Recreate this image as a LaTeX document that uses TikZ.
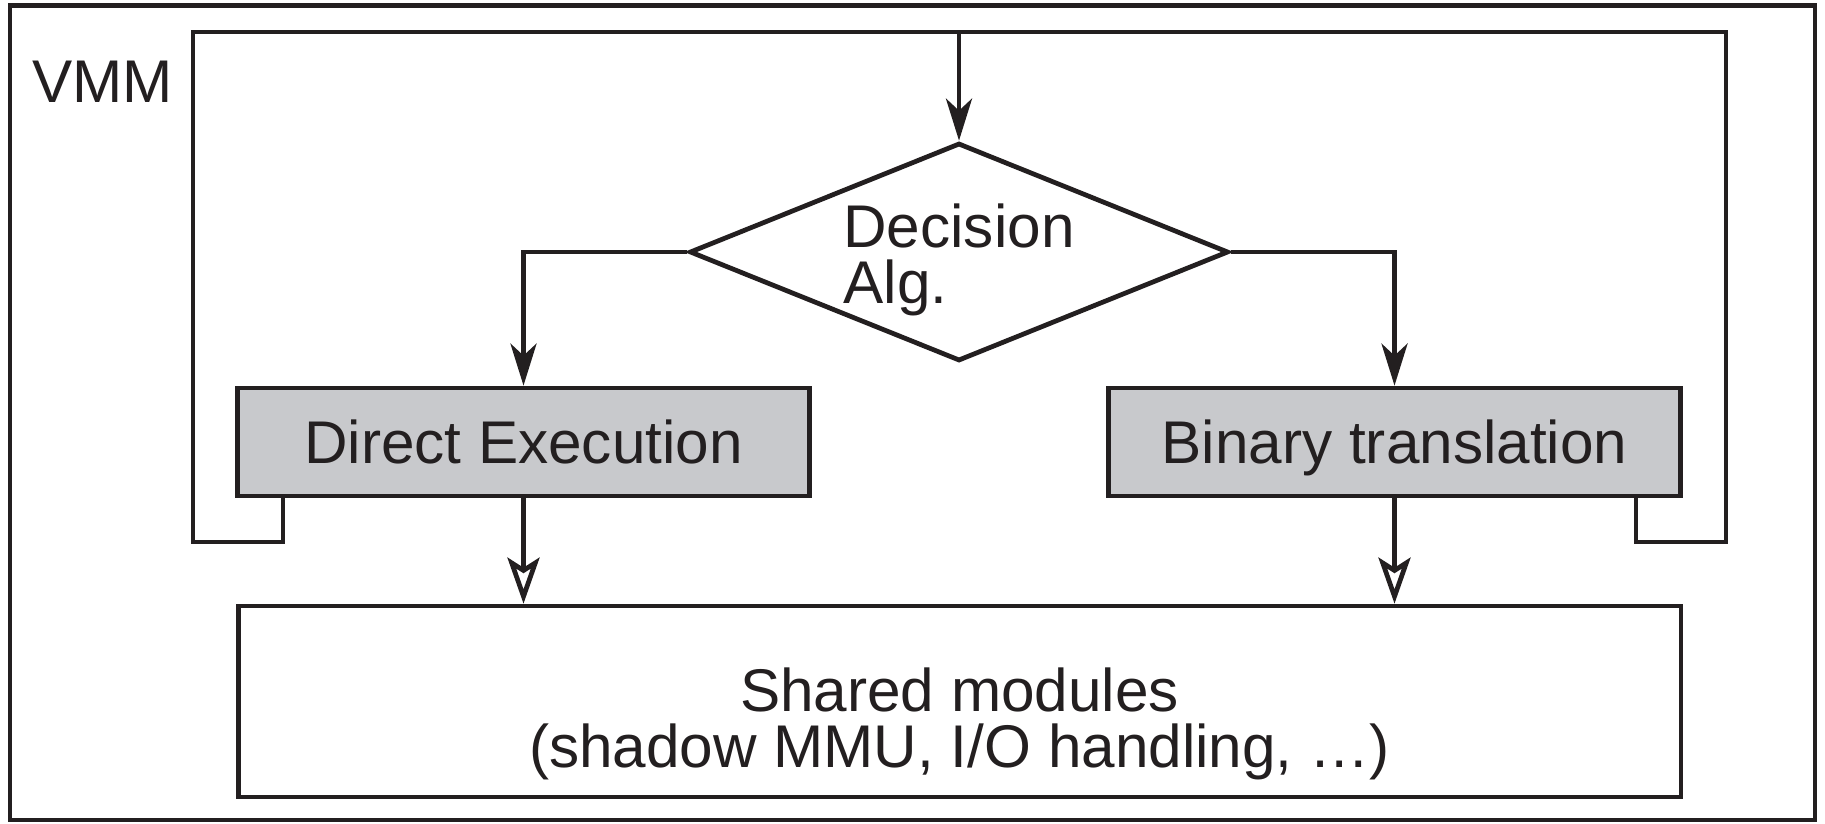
\documentclass[tikz,border=0pt]{standalone}
\usepackage{fontspec}
\setmainfont{Liberation Sans}
\usetikzlibrary{arrows.meta,shapes.geometric}
\definecolor{boxgray}{RGB}{200,201,204}
\definecolor{ink}{RGB}{35,31,32}
\tikzset{
  base/.style={line width=0.095cm, draw=ink, line join=miter},
  txt/.style={font=\fontsize{34.3}{31.5}\selectfont, text=ink, inner sep=0pt},
  procbox/.style={base, rectangle, fill=boxgray, minimum width=11.44cm, minimum height=2.16cm, inner sep=0pt, txt, text depth=0pt},
  sharedbox/.style={base, rectangle, fill=white, minimum width=28.86cm, minimum height=3.82cm, inner sep=0pt},
  decbox/.style={base, diamond, fill=white, minimum width=10.78cm, minimum height=4.36cm, inner sep=0pt},
  conn/.style={base},
  flow/.style={base, -{Stealth[length=0.84cm, width=0.52cm, inset=0.24cm]}},
  hollow/.style={base, -{Stealth[open, length=0.92cm, width=0.64cm, inset=0.2cm]}}
}
\begin{document}
\begin{tikzpicture}[x=0.02cm, y=-0.02cm]
\useasboundingbox (0,0) rectangle (1825,824);
% outer frame
\draw[base] (10,5.5) rectangle (1815,820);
\node[txt, anchor=base west] (vmm) at (32,103) {VMM};
% nodes
\node[decbox] (dec) at (959,252) {};
\node[txt, align=left] (dectext) at (959,260) {Decision\\Alg.};
\node[procbox] (de) at (523.5,442) {Direct Execution};
\node[procbox] (bt) at (1394.5,442) {Binary translation};
\node[sharedbox] (sm) at (959.5,701.5) {};
\node[txt, align=center] (smtext) at (959.5,724) {Shared modules\\(shadow MMU, I/O handling, …)};
% loop coordinates
\coordinate (dx) at (283,0);
\coordinate (bx) at (1636,0);
\coordinate (ll) at (193,542);
\coordinate (ul) at (193,32);
\coordinate (ur) at (1726,32);
\coordinate (lr) at (1726,542);
\draw[conn] (de.south -| dx) -- (dx |- ll) -- (ll) -- (ul) -- (ur) -- (lr) -- (bx |- lr) -- (bt.south -| bx);
\draw[flow] (dec.north |- ul) -- (dec.north);
\draw[flow] (dec.west) -| (de.north);
\draw[flow] (dec.east) -| (bt.north);
\draw[hollow] (de.south) -- (sm.north -| de.south);
\draw[hollow] (bt.south) -- (sm.north -| bt.south);
\end{tikzpicture}
\end{document}
